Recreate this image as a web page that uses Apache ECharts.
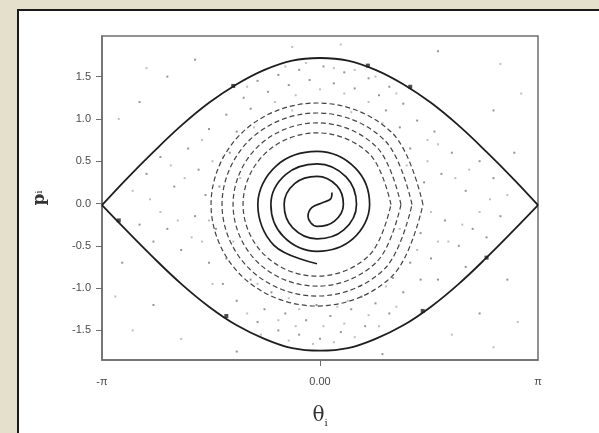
<!DOCTYPE html>
<html>
<head>
<meta charset="utf-8">
<script src="https://cdn.jsdelivr.net/npm/echarts@6/dist/echarts.min.js"></script>
<style>
  html, body { margin: 0; padding: 0; }
  body { width: 599px; height: 433px; background: #e5e0cc; position: relative; overflow: hidden; }
  #panel { position: absolute; left: 17px; top: 9px; width: 600px; height: 440px; background: #fff;
           border-left: 2px solid #1a1a1a; border-top: 2px solid #1a1a1a; }
  #main { position: absolute; left: 0; top: 0; width: 599px; height: 433px; }
</style>
</head>
<body>
<div id="panel"></div>
<div id="main"></div>
<script>
// theta axis (radians) and momentum axis
const xMin = -3.1416
const xMax = 3.1416
const yMin = -1.85
const yMax = 1.98
const xLabelValues = [-3.1416, 0, 3.1416]
const xLabelText = ['-π', '0.00', 'π']
const yTickValues = [-1.5, -1.0, -0.5, 0, 0.5, 1.0, 1.5]

// separatrix
const sepTheta = [-3.1416, -2.8, -2.4, -2.0, -1.6, -1.2, -0.8, -0.4, 0, 0.4, 0.8, 1.2, 1.6, 2.0, 2.4, 2.8, 3.1416]
const sepUpper = [-0.02, 0.28, 0.61, 0.92, 1.19, 1.41, 1.58, 1.69, 1.72, 1.69, 1.58, 1.41, 1.19, 0.92, 0.61, 0.28, -0.02]
const sepLower = [-0.02, -0.31, -0.64, -0.95, -1.22, -1.44, -1.60, -1.71, -1.74, -1.71, -1.60, -1.44, -1.22, -0.95, -0.64, -0.31, -0.02]

// the solid spiral (hook in the middle, winding outward)
const spiral = [
  [0.173, 0.129], [0.159, 0.059], [0.043, 0.012], [-0.115, -0.047], [-0.173, -0.153],
  [-0.043, -0.271], [0.209, -0.208], [0.337, -0.012], [0.242, 0.211], [-0.043, 0.321],
  [-0.362, 0.237], [-0.517, -0.012], [-0.396, -0.286], [-0.043, -0.418], [0.343, -0.312],
  [0.526, -0.012], [0.376, 0.314], [-0.043, 0.468], [-0.496, 0.340], [-0.708, -0.012],
  [-0.529, -0.389], [-0.043, -0.565], [0.477, -0.415], [0.715, -0.012], [0.510, 0.418],
  [-0.043, 0.615], [-0.630, 0.445], [-0.896, -0.012], [-0.663, -0.494], [-0.043, -0.712]
]

// broken rings around the spiral
const ring1 = [[1.023, -0.012], [0.711, 0.587], [-0.043, 0.835], [-0.797, 0.587], [-1.109, -0.012], [-0.797, -0.611], [-0.043, -0.859], [0.711, -0.611], [1.023, -0.012]]
const ring2 = [[1.167, -0.012], [0.813, 0.670], [-0.043, 0.953], [-0.899, 0.670], [-1.253, -0.012], [-0.899, -0.694], [-0.043, -0.977], [0.813, -0.694], [1.167, -0.012]]
const ring3 = [[1.326, -0.012], [0.925, 0.753], [-0.043, 1.070], [-1.011, 0.753], [-1.412, -0.012], [-1.011, -0.777], [-0.043, -1.094], [0.925, -0.777], [1.326, -0.012]]
const ring4 = [[1.484, -0.012], [1.037, 0.837], [-0.043, 1.188], [-1.123, 0.837], [-1.570, -0.012], [-1.123, -0.861], [-0.043, -1.212], [1.037, -0.861], [1.484, -0.012]]

// scattered points of the chaotic sea
const seaDots = [
  [-0.9, 1.45], [-0.6, 1.52], [-0.3, 1.58], [0.05, 1.62], [0.35, 1.55], [0.7, 1.48], [1.0, 1.38],
  [-1.1, 1.25], [-0.75, 1.32], [-0.45, 1.40], [-0.15, 1.46], [0.2, 1.42], [0.5, 1.36], [0.85, 1.28],
  [1.2, 1.18], [-1.35, 1.05], [-1.0, 1.12], [0.95, 1.10], [1.4, 0.98], [-1.6, 0.88], [1.65, 0.85],
  [-2.5, 0.35], [-2.3, 0.55], [-2.1, 0.2], [-1.9, 0.65], [-1.75, 0.4], [-2.2, -0.3], [-2.0, -0.55],
  [-1.8, -0.15], [-1.6, -0.7], [-2.6, -0.25], [-2.4, -0.45], [-1.65, 0.1], [2.5, 0.3], [2.3, 0.5],
  [2.1, 0.15], [1.9, 0.6], [1.75, 0.35], [2.2, -0.3], [2.0, -0.5], [1.8, -0.2], [1.6, -0.65],
  [2.6, -0.15], [2.4, -0.4], [1.7, -0.9], [2.1, -0.75],
  [-0.9, -1.4], [-0.6, -1.5], [-0.3, -1.55], [0.0, -1.6], [0.3, -1.52], [0.65, -1.45], [1.0, -1.3],
  [-1.2, -1.15], [-0.8, -1.25], [-0.5, -1.3], [-0.2, -1.38], [0.15, -1.33], [0.45, -1.25], [0.8, -1.18],
  [1.2, -1.05], [-1.4, -0.95], [1.45, -0.9], [-0.05, -1.2], [0.6, -1.1], [-0.7, -1.05],
  [-1.3, 0.6], [-1.45, 0.2], [-1.5, -0.3], [-1.35, -0.65], [1.3, 0.65], [1.5, 0.25], [1.45, -0.35],
  [1.3, -0.7], [-1.2, 0.85], [1.15, 0.9], [-1.0, -0.9], [1.05, -0.88],
  [-2.6, 1.2], [-2.2, 1.5], [2.5, 1.1], [2.8, 0.6], [-2.85, -0.7], [-2.4, -1.2], [2.3, -1.3],
  [2.7, -0.9], [-1.8, 1.7], [1.7, 1.8], [-1.2, -1.75], [0.9, -1.78]
]
const seaDotsFaint = [
  [-2.7, 0.15], [-2.45, 0.05], [-2.15, 0.45], [-1.95, 0.3], [-1.85, -0.4], [-2.3, -0.1], [-2.05, -0.2],
  [-1.7, -0.45], [-1.55, 0.5], [-1.7, 0.75], [2.7, 0.1], [2.45, 0.05], [2.15, 0.4], [1.95, 0.3],
  [1.85, -0.45], [2.3, -0.1], [2.05, -0.25], [1.7, -0.45], [1.55, 0.5], [1.7, 0.7],
  [-0.8, 1.58], [-0.5, 1.62], [-0.2, 1.66], [0.2, 1.6], [0.5, 1.58], [0.8, 1.5], [-1.05, 1.38],
  [1.1, 1.3], [-0.35, 1.28], [0.35, 1.3], [0.0, 1.35], [-0.65, 1.2], [0.7, 1.2],
  [-0.85, -1.55], [-0.45, -1.62], [-0.1, -1.66], [0.2, -1.64], [0.5, -1.58], [0.85, -1.45],
  [-1.05, -1.3], [1.1, -1.22], [-0.35, -1.45], [0.35, -1.42], [0.05, -1.45], [-0.6, -1.38],
  [0.7, -1.32], [-0.3, -1.25], [0.25, -1.22],
  [-1.6, -0.2], [-1.55, -0.95], [1.6, -0.1], [1.55, 0.75], [-1.4, 0.55], [1.4, -0.55], [-1.25, -0.45],
  [1.25, 0.45], [-1.15, 0.3], [1.15, -0.3], [-0.95, 0.9], [0.9, 0.95], [-0.9, -0.95], [0.95, -0.98],
  [-0.4, 1.1], [0.45, 1.08], [-0.45, -1.12], [0.4, -1.15],
  [-2.9, 1.0], [-2.5, 1.6], [2.9, 1.3], [2.6, 1.65], [-2.95, -1.1], [-2.7, -1.5], [2.85, -1.4],
  [2.5, -1.7], [-0.4, 1.85], [0.3, 1.88], [-2.0, -1.6], [1.9, -1.55]
]

// darker blobs sitting on the separatrix
const sepBlobs = [[-1.25, 1.39], [0.69, 1.63], [1.30, 1.38], [-2.9, -0.2], [-1.35, -1.33], [1.48, -1.27], [2.40, -0.64]]

function zip(xs, ys) {
  return xs.map((x, i) => [x, ys[i]])
}

const chartDom = document.getElementById('main')
const myChart = echarts.init(chartDom, null, { renderer: 'canvas' })

const ringStyle = { color: '#444', width: 1.2, type: [5, 3] }
const axisGray = '#6e6e6e'

const option = {
  animation: false,
  backgroundColor: 'transparent',
  grid: {
    left: 102, top: 36, right: 61, bottom: 71,
    show: true, borderColor: axisGray, borderWidth: 1.5, backgroundColor: 'transparent'
  },
  xAxis: {
    type: 'value', min: xMin, max: xMax,
    splitLine: { show: false },
    axisLine: { show: true, onZero: false, lineStyle: { color: axisGray, width: 1.5 } },
    axisTick: { show: true, inside: false, length: 6, customValues: [0], lineStyle: { color: axisGray } },
    axisLabel: {
      customValues: xLabelValues, margin: 16, fontSize: 11, color: '#4a4a4a', fontFamily: 'Liberation Sans',
      formatter: function (v) {
        const i = xLabelValues.findIndex(t => Math.abs(t - v) < 1e-3)
        return i >= 0 ? xLabelText[i] : ''
      }
    },
    name: '{t|θ}{s|i}', nameLocation: 'middle', nameGap: 44,
    nameTextStyle: {
      rich: {
        t: { fontSize: 20, fontFamily: 'DejaVu Serif', color: '#333' },
        s: { fontSize: 10, fontFamily: 'DejaVu Serif', color: '#333', padding: [14, 0, 0, 0] }
      }
    }
  },
  yAxis: {
    type: 'value', min: yMin, max: yMax,
    splitLine: { show: false },
    axisLine: { show: true, onZero: false, lineStyle: { color: axisGray, width: 1.5 } },
    axisTick: { show: true, inside: false, length: 6, customValues: yTickValues, lineStyle: { color: axisGray } },
    axisLabel: {
      customValues: yTickValues, margin: 11, fontSize: 11, color: '#4a4a4a', fontFamily: 'Liberation Sans',
      formatter: v => v.toFixed(1)
    },
    name: '{p|p}{s|i}', nameLocation: 'middle', nameGap: 54, nameRotate: 90,
    nameTextStyle: {
      rich: {
        p: { fontSize: 17, fontFamily: 'DejaVu Serif', fontWeight: 'bold', color: '#333' },
        s: { fontSize: 9, fontFamily: 'DejaVu Serif', color: '#333' }
      }
    }
  },
  series: [
    {
      name: 'seaFaint', type: 'scatter', data: seaDotsFaint, symbol: 'rect', symbolSize: 2,
      itemStyle: { color: '#b0b0b0' }, silent: true
    },
    {
      name: 'sea', type: 'scatter', data: seaDots, symbol: 'rect', symbolSize: 2,
      itemStyle: { color: '#7a7a7a' }, silent: true
    },
    { name: 'ring1', type: 'line', data: ring1, smooth: 0.37, showSymbol: false, lineStyle: ringStyle },
    { name: 'ring2', type: 'line', data: ring2, smooth: 0.37, showSymbol: false, lineStyle: ringStyle },
    { name: 'ring3', type: 'line', data: ring3, smooth: 0.37, showSymbol: false, lineStyle: ringStyle },
    { name: 'ring4', type: 'line', data: ring4, smooth: 0.37, showSymbol: false, lineStyle: ringStyle },
    {
      name: 'spiral', type: 'line', data: spiral, smooth: 0.37, showSymbol: false,
      lineStyle: { color: '#1e1e1e', width: 1.7 }
    },
    {
      name: 'upper', type: 'line', data: zip(sepTheta, sepUpper), smooth: 0.4, showSymbol: false,
      lineStyle: { color: '#1e1e1e', width: 1.8 }
    },
    {
      name: 'lower', type: 'line', data: zip(sepTheta, sepLower), smooth: 0.4, showSymbol: false,
      lineStyle: { color: '#1e1e1e', width: 1.8 }
    },
    {
      name: 'blobs', type: 'scatter', data: sepBlobs, symbol: 'rect', symbolSize: 4,
      itemStyle: { color: '#222' }, silent: true
    }
  ]
}

option && myChart.setOption(option)
</script>
</body>
</html>
